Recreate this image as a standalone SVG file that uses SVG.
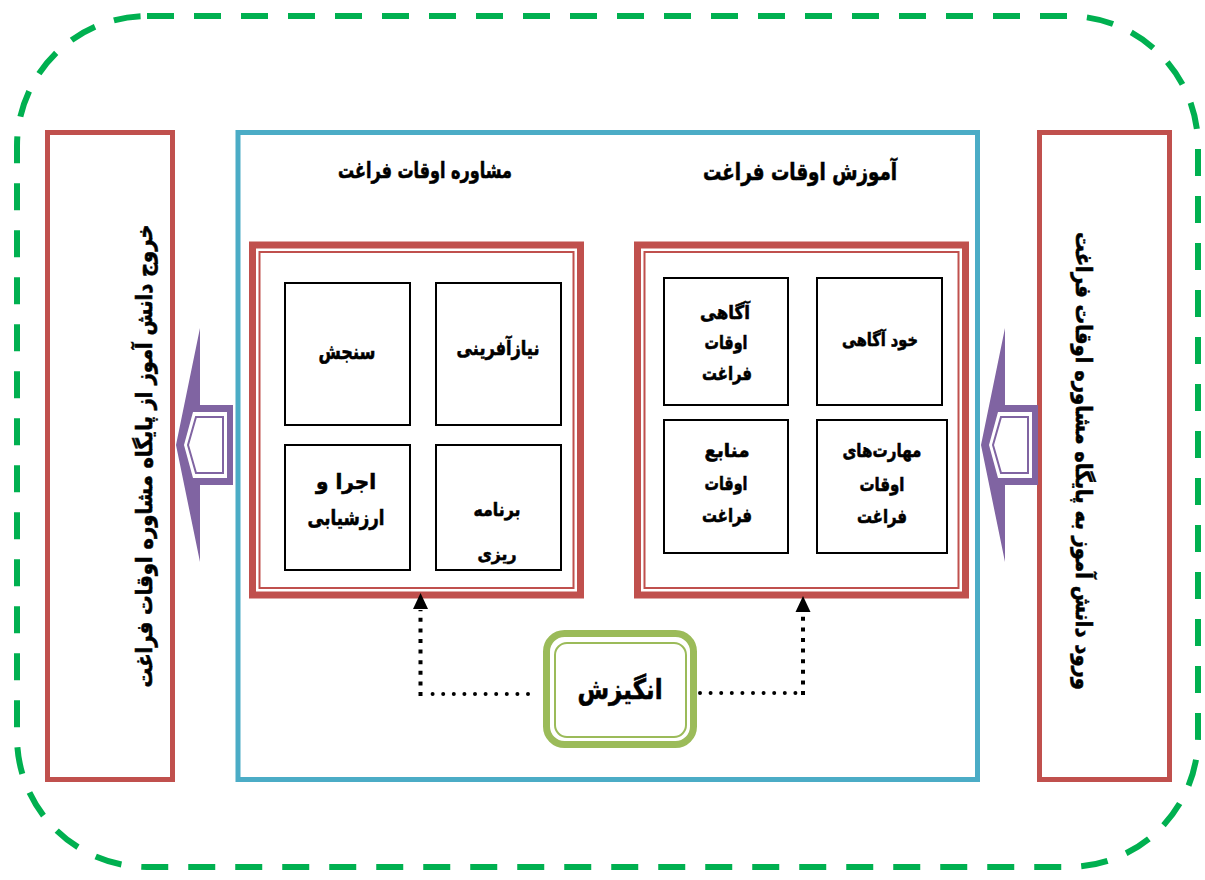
<svg xmlns="http://www.w3.org/2000/svg" width="1205" height="880" viewBox="0 0 1205 880">
<style>
.t{font-family:"DejaVu Sans","Noto Sans",sans-serif;font-weight:bold;fill:#000;stroke:#000;stroke-width:0.6;text-anchor:middle;direction:rtl}
.box{fill:#fff;stroke:#000;stroke-width:2}
.red{fill:none;stroke:#C0504D}
.dotv{fill:none;stroke:#000;stroke-width:4;stroke-dasharray:4 6.6}
.doth{fill:none;stroke:#000;stroke-width:4;stroke-dasharray:0 10.6;stroke-linecap:round}
</style>
<defs>
<g id="barrow">
<polygon points="233,405 200,405 200,328 176,445 200,562 200,485 233,485" fill="#8064A2"/>
<polygon points="227,412 193,412 184,445 193,478 227,478" fill="#fff"/>
<polygon points="223,417 196,417 188,445 196,473 223,473" fill="#fff" stroke="#8064A2" stroke-width="2"/>
</g>
</defs>
<rect width="1205" height="880" fill="#fff"/>
<rect id="frame" x="17" y="16" width="1181" height="851" rx="130" fill="none" stroke="#00B050" stroke-width="6" stroke-dasharray="27 20"/>

<g id="exit">
<rect x="47.5" y="132.5" width="125" height="647" class="red" stroke-width="5"/>
<text class="t" font-size="22" textLength="463" lengthAdjust="spacingAndGlyphs" transform="translate(152,456) rotate(-90)">خروج دانش آموز از پایگاه مشاوره اوقات فراغت</text>
</g>
<g id="entry">
<rect x="1039.5" y="132.5" width="130" height="647" class="red" stroke-width="5"/>
<text class="t" font-size="22" textLength="458" lengthAdjust="spacingAndGlyphs" transform="translate(1076,461) rotate(90)">ورود دانش آموز به پایگاه مشاوره اوقات فراغت</text>
</g>

<g id="center">
<rect x="238" y="132.5" width="739.5" height="647" fill="none" stroke="#4BACC6" stroke-width="5"/>
<text class="t" font-size="22" x="425" y="178" textLength="174" lengthAdjust="spacingAndGlyphs">مشاوره اوقات فراغت</text>
<text class="t" font-size="24" x="800" y="180" textLength="194" lengthAdjust="spacingAndGlyphs">آموزش اوقات فراغت</text>
</g>

<g id="counseling">
<rect x="252.5" y="245" width="328" height="350" class="red" stroke-width="7"/>
<rect x="259.5" y="252" width="314" height="336" class="red" stroke-width="2"/>
</g>
<g id="education">
<rect x="637.5" y="245" width="328" height="350" class="red" stroke-width="7"/>
<rect x="644.5" y="252" width="314" height="336" class="red" stroke-width="2"/>
</g>

<g id="n-sanjesh"><rect class="box" x="285" y="283" width="125" height="142"/><text class="t" font-size="21" x="347" y="359" textLength="57" lengthAdjust="spacingAndGlyphs">سنجش</text></g>
<g id="n-niaz"><rect class="box" x="436" y="283" width="125" height="142"/><text class="t" font-size="20" x="498" y="355" textLength="83" lengthAdjust="spacingAndGlyphs">نیازآفرینی</text></g>
<g id="n-ejra"><rect class="box" x="285" y="445" width="125" height="125"/><text class="t" font-size="21" x="346" y="489" textLength="60" lengthAdjust="spacingAndGlyphs">اجرا و</text><text class="t" font-size="21" x="346" y="525" textLength="77" lengthAdjust="spacingAndGlyphs">ارزشیابی</text></g>
<g id="n-barname"><rect class="box" x="436" y="445" width="125" height="125"/><text class="t" font-size="18" x="497" y="516" textLength="47" lengthAdjust="spacingAndGlyphs">برنامه</text><text class="t" font-size="17" x="497" y="560" textLength="39" lengthAdjust="spacingAndGlyphs">ریزی</text></g>

<g id="n-agahi"><rect class="box" x="664" y="278" width="124" height="127"/><text class="t" font-size="19" x="725" y="319" textLength="50" lengthAdjust="spacingAndGlyphs">آگاهی</text><text class="t" font-size="19" x="726" y="349" textLength="43" lengthAdjust="spacingAndGlyphs">اوقات</text><text class="t" font-size="19" x="727" y="380" textLength="50" lengthAdjust="spacingAndGlyphs">فراغت</text></g>
<g id="n-khod"><rect class="box" x="817" y="278" width="125" height="127"/><text class="t" font-size="18" x="880" y="346" textLength="76" lengthAdjust="spacingAndGlyphs">خود آگاهی</text></g>
<g id="n-manabe"><rect class="box" x="664" y="420" width="124" height="133"/><text class="t" font-size="19" x="727" y="457" textLength="45" lengthAdjust="spacingAndGlyphs">منابع</text><text class="t" font-size="19" x="726" y="490" textLength="43" lengthAdjust="spacingAndGlyphs">اوقات</text><text class="t" font-size="19" x="727" y="522" textLength="50" lengthAdjust="spacingAndGlyphs">فراغت</text></g>
<g id="n-maharat"><rect class="box" x="817" y="420" width="130" height="133"/><text class="t" font-size="19" x="882" y="457" textLength="79" lengthAdjust="spacingAndGlyphs">مهارت‌های</text><text class="t" font-size="19" x="882" y="491" textLength="45" lengthAdjust="spacingAndGlyphs">اوقات</text><text class="t" font-size="19" x="882" y="523" textLength="50" lengthAdjust="spacingAndGlyphs">فراغت</text></g>

<g id="motivation">
<rect x="546.5" y="633.5" width="147" height="111" rx="18" fill="#fff" stroke="#9BBB59" stroke-width="7"/>
<rect x="555" y="643" width="131" height="94" rx="12" fill="none" stroke="#9BBB59" stroke-width="2"/>
<text class="t" font-size="28" x="620" y="699" textLength="85" lengthAdjust="spacingAndGlyphs">انگیزش</text>
</g>

<g id="connectors">
<path class="doth" d="M528,694 H424"/>
<path class="dotv" d="M420.5,696 V610"/>
<polygon points="420.5,593 413,609 428,609" fill="#000"/>
<path class="doth" d="M700,693 H800"/>
<path class="dotv" d="M803,695 V612"/>
<polygon points="803,596 795.5,612 810.5,612" fill="#000"/>
<use href="#barrow"/>
<use href="#barrow" transform="translate(805,0)"/>
</g>
</svg>
